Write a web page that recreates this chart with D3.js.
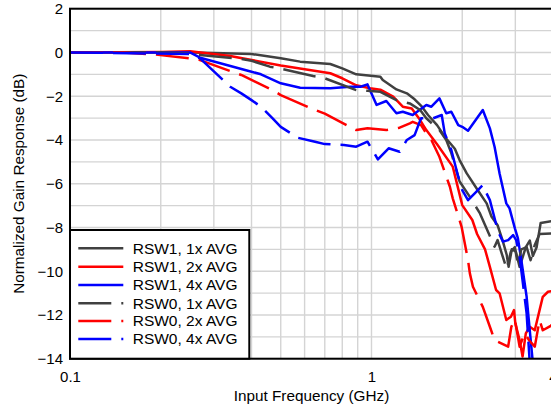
<!DOCTYPE html>
<html><head><meta charset="utf-8">
<script src="https://cdn.jsdelivr.net/npm/d3@7"></script>
<style>body{margin:0;background:#fff} svg{display:block} text{font-family:"Liberation Sans",Arial,sans-serif}</style>
</head><body><svg id="c" width="551" height="408"></svg>
<script>
// ---- data (frequency in GHz, normalized gain in dB) ----
const freqRSW1_1x = [0.1,0.25,0.3,0.4,0.5,0.58,0.73,0.8,0.89,1.07,1.09,1.21,1.31,1.39,1.47,1.54,1.65,1.76,1.89,1.96,2.07,2.25,2.41,2.5,2.62,2.72,2.81,2.85,2.92,3.01,3.1,3.25,3.35,3.43,3.53,3.64,4.0];
const gainRSW1_1x = [0,0,-0.03,-0.07,-0.27,-0.42,-0.53,-0.73,-1.0,-1.11,-1.26,-1.69,-1.87,-2.14,-2.48,-2.86,-3.32,-3.9,-4.4,-4.92,-5.53,-6.29,-6.9,-7.5,-7.9,-8.58,-9.26,-9.8,-9.0,-9.1,-9.8,-8.9,-8.6,-9.3,-8.9,-7.8,-7.7];

const freqRSW1_2x = [0.1,0.2,0.25,0.34,0.5,0.73,0.8,0.89,0.99,1.07,1.18,1.27,1.36,1.45,1.52,1.58,1.65,1.86,2.0,2.16,2.24,2.38,2.47,2.59,2.66,2.8,2.9,2.97,3.0,3.1,3.17,3.25,3.35,3.48,3.61,3.7,3.85,4.0];
const gainRSW1_2x = [0,0.02,0.05,-0.16,-0.6,-0.95,-1.18,-1.5,-1.64,-1.7,-2.02,-2.48,-2.56,-3.09,-3.55,-3.85,-4.2,-5.22,-6.98,-7.66,-8.3,-9.0,-9.8,-10.86,-11.01,-12.23,-12.08,-11.78,-12.39,-13.15,-13.9,-12.84,-12.54,-12.7,-11.78,-11.17,-10.94,-10.9];

const freqRSW1_4x = [0.1,0.25,0.27,0.4,0.43,0.5,0.58,0.73,0.85,0.92,0.97,1.04,1.12,1.21,1.27,1.37,1.52,1.58,1.68,1.77,1.84,1.94,2.0,2.09,2.34,2.47,2.56,2.66,2.8,2.87,2.99,3.06,3.14,3.27,3.43];
const gainRSW1_4x = [0,0,-0.24,-0.88,-1.0,-1.41,-1.61,-1.64,-1.57,-1.57,-1.46,-2.4,-2.22,-2.78,-2.71,-2.86,-2.4,-2.48,-2.1,-2.78,-2.71,-3.32,-3.4,-3.58,-2.63,-3.47,-4.31,-5.53,-6.9,-7.13,-8.04,-8.5,-9.49,-11.17,-14.2];

const freqRSW0_1x = [0.1,0.2,0.25,0.27,0.37,0.4,0.46,0.51,0.64,0.7,0.89,0.97,1.07,1.21,1.34,1.45,1.52,1.68,1.77,1.84,1.96,2.12,2.29,2.38,2.56,2.62,2.72,2.81,2.9,2.99,3.06,3.14,3.27,3.37,3.48,3.61,4.0];
const gainRSW0_1x = [0,0,-0.05,-0.12,-0.3,-0.38,-0.65,-0.77,-1.08,-1.18,-1.72,-1.75,-1.8,-2.18,-2.33,-2.63,-3.01,-3.55,-4.0,-4.6,-5.9,-6.6,-7.36,-7.89,-8.88,-8.58,-9.3,-9.9,-9.1,-8.9,-9.7,-9.0,-8.9,-9.5,-8.8,-8.3,-8.27];

const freqRSW0_2x = [0.1,0.15,0.19,0.25,0.27,0.34,0.37,0.47,0.5,0.65,0.7,0.89,0.97,1.12,1.24,1.34,1.37,1.46,1.52,1.58,1.68,1.82,1.86,1.99,2.09,2.12,2.17,2.34,2.47,2.56,2.84,2.91,2.99,3.1,3.22,3.35,3.48,3.61,3.7,3.93,4.0];
const gainRSW0_2x = [0,0,-0.09,-0.27,-0.35,-0.85,-1.03,-1.72,-1.95,-2.63,-2.8,-3.55,-3.47,-3.55,-3.44,-3.24,-3.17,-3.32,-3.7,-4.0,-4.77,-6.14,-6.67,-7.97,-9.49,-10.1,-10.71,-11.63,-12.54,-13.15,-13.45,-12.54,-12.2,-13.45,-12.84,-13.2,-13.45,-12.23,-12.7,-12.5,-12.4];

const freqRSW0_4x = [0.1,0.25,0.27,0.34,0.37,0.4,0.43,0.47,0.5,0.57,0.65,0.7,0.81,0.89,0.97,1.05,1.14,1.24,1.31,1.39,1.46,1.6,1.71,1.75,1.84,1.94,2.0,2.09,2.2,2.34,2.38,2.47,2.63,2.73,2.84,2.95,3.02,3.1,3.27,3.35];
const gainRSW0_4x = [0,-0.07,-0.27,-1.57,-1.87,-2.18,-2.48,-3.01,-3.4,-3.9,-4.08,-4.19,-4.23,-4.31,-4.08,-4.89,-4.38,-4.54,-4.0,-3.78,-3.01,-3.01,-2.86,-3.7,-4.46,-5.68,-6.29,-6.75,-6.44,-6.06,-6.3,-6.75,-8.2,-8.65,-8.58,-8.35,-8.58,-9.34,-11.93,-14.2];

const seriesNames = ["RSW1, 1x AVG","RSW1, 2x AVG","RSW1, 4x AVG","RSW0, 1x AVG","RSW0, 2x AVG","RSW0, 4x AVG"];
const xTickValues = [0.1, 1, 4];
const xTickLabels = ["0.1", "1", "4"];
const yTickValues = [2, 0, -2, -4, -6, -8, -10, -12, -14];
const xGridValues = [0.2,0.3,0.4,0.5,0.6,0.7,0.8,0.9,1,2,3,4];
const yGridValues = d3.range(-14, 3, 1);

// ---- styling ----
const colors = ["#404040","#ff0000","#0000ff","#404040","#ff0000","#0000ff"];
const dashes = [null,null,null,"33,10","33,10","33,10"];
const seriesData = [
  [freqRSW1_1x, gainRSW1_1x],[freqRSW1_2x, gainRSW1_2x],[freqRSW1_4x, gainRSW1_4x],
  [freqRSW0_1x, gainRSW0_1x],[freqRSW0_2x, gainRSW0_2x],[freqRSW0_4x, gainRSW0_4x]
].map(([f,g]) => f.map((v,i)=>({f:v, g:g[i]})));

const L=70, T=8.7, R=553, B=358.7;
const svg = d3.select("#c");
const x = d3.scaleLog().domain([0.1,4]).range([L,R]);
const y = d3.scaleLinear().domain([-14,2]).range([B,T]);

// grid
const grid = svg.append("g").attr("stroke","#d4d4d4").attr("stroke-width",1.4);
grid.selectAll(".gx").data(xGridValues).join("line")
  .attr("x1",d=>x(d)).attr("x2",d=>x(d)).attr("y1",T).attr("y2",B);
grid.selectAll(".gy").data(yGridValues).join("line")
  .attr("x1",L).attr("x2",R).attr("y1",d=>y(d)).attr("y2",d=>y(d));

// clip
svg.append("defs").append("clipPath").attr("id","clip")
  .append("rect").attr("x",L).attr("y",T).attr("width",R-L).attr("height",B-T);

const line = d3.line().x(d=>x(d.f)).y(d=>y(d.g));
svg.append("g").attr("clip-path","url(#clip)")
  .selectAll("path").data(seriesData).join("path")
  .attr("d", line).attr("fill","none")
  .attr("stroke",(d,i)=>colors[i]).attr("stroke-width",2.5)
  .attr("stroke-linejoin","round")
  .attr("stroke-dasharray",(d,i)=>dashes[i]);

// frame
svg.append("rect").attr("x",L).attr("y",T).attr("width",R-L).attr("height",B-T)
  .attr("fill","none").attr("stroke","#000").attr("stroke-width",2);

// axes
const yAxis = svg.append("g").attr("transform",`translate(${L},0)`)
  .call(d3.axisLeft(y).tickValues(yTickValues).tickSize(0).tickPadding(7).tickFormat(d3.format("d")));
yAxis.select(".domain").remove();
yAxis.selectAll("text").attr("font-size",15).attr("fill","#000").style("font-family",'"Liberation Sans",Arial,sans-serif');

const xAxis = svg.append("g").attr("transform",`translate(0,${B})`)
  .call(d3.axisBottom(x).tickValues(xTickValues).tickSize(0).tickPadding(13).tickFormat((d,i)=>xTickLabels[i]));
xAxis.select(".domain").remove();
xAxis.selectAll("text").attr("font-size",15).attr("fill","#000").style("font-family",'"Liberation Sans",Arial,sans-serif');

svg.append("text").attr("x",(L+R)/2).attr("y",401).attr("text-anchor","middle")
  .attr("font-size",15.3).text("Input Frequency (GHz)");
svg.append("text").attr("transform",`translate(24,${(T+B)/2}) rotate(-90)`).attr("text-anchor","middle")
  .attr("font-size",15.3).text("Normalized Gain Response (dB)");

// legend
const lg = svg.append("g");
lg.append("rect").attr("x",L).attr("y",230).attr("width",179.3).attr("height",B-230)
  .attr("fill","#fff").attr("stroke","#000").attr("stroke-width",2);
const rowY = [248.3,266.7,285,303.3,321,339];
seriesNames.forEach((name,i)=>{
  lg.append("line").attr("x1",78.3).attr("x2",123.3).attr("y1",rowY[i]).attr("y2",rowY[i])
    .attr("stroke",colors[i]).attr("stroke-width",2.5).attr("stroke-dasharray",dashes[i]);
  lg.append("text").attr("x",132.7).attr("y",rowY[i]).attr("dy","0.35em")
    .attr("font-size",15.5).text(name);
});
</script></body></html>
